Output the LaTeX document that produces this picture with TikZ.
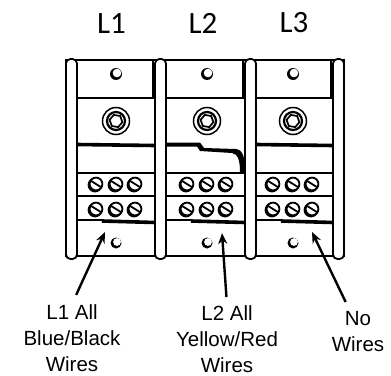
\documentclass[tikz,border=0pt]{standalone}
\usepackage{fontspec}
\setmainfont{Liberation Sans}
\newfontfamily\headfont{Carlito}
\usetikzlibrary{arrows.meta}

\begin{document}
\begin{tikzpicture}[x=1pt,y=-1pt,
    rail/.style={draw=black, fill=white, line width=1.8pt, rounded corners=4.5pt},
    edge/.style={line width=1.5pt},
    heavy/.style={line width=3.6pt},
    screw/.style={draw=black, fill=white, line width=1.8pt},
    slot/.style={line width=1.8pt},
    pointer/.style={line width=2.4pt, -{Stealth[length=11pt,width=9pt]}},
    caption/.style={align=center, inner sep=0pt, font=\fontsize{20.5}{26}\selectfont},
    phase/.style={inner sep=0pt, font=\headfont\fontsize{31}{31}\selectfont}]

    \useasboundingbox (0,0) rectangle (391,375);

    % phase headings
    \node[phase] (l1) at (111.5,24) {L1};
    \node[phase] (l2) at (203,23) {L2};
    \node[phase] (l3) at (294,23) {L3};

    % body of the block
    \draw[edge] (66,60) rectangle (344,256);

    % the three modules
    \foreach \xl/\xr/\xc in {77/155/116, 166/245/207, 256/333/293} {
        \draw[edge] (\xl,98) -- (\xr,98);
        \draw[edge] (\xl,173) -- (\xr,173);
        \draw[edge] (\xl,196) -- (\xr,196);
        \draw[line width=2.2pt] (\xl,220) -- (\xl+25,220);
        \draw[heavy] (\xl+25,221) -- (\xr,222.5);
        \draw[line width=2.4pt] (\xr-2,60) -- (\xr-2,98);

        % top hole
        \fill (\xc,74) circle (6);
        \fill[white] (\xc+1,73) circle (4.3);

        % hex screw
        \draw[edge] (\xc,121) circle (13.5);
        \draw[line width=2.2pt] (\xc,121) circle (9);
        \draw[line width=1.7pt] (\xc,121) +(10:6.5) -- +(70:6.5) -- +(130:6.5) -- +(190:6.5)
            -- +(250:6.5) -- +(310:6.5) -- cycle;

        % terminal screws
        \foreach \dx in {-20,0,19}
            \foreach \ry in {184,209} {
                \fill (\xc+\dx-1,\ry+1) circle (7.4);
                \draw[screw] (\xc+\dx,\ry) circle (6.4);
                \draw[slot] (\xc+\dx,\ry) +(212:6.6) -- +(32:6.6);
            }

        % bottom hole
        \fill (\xc,243) circle (5.5);
        \fill[white] (\xc+1,242) circle (3.9);
    }

    % heavy lines under the hex screws
    \draw[heavy] (77,144.5) -- (155,145.5);
    \draw[heavy] (256,144.5) -- (333,145.5);
    \fill (166,142.5) -- (200,142.5) -- (204,148) -- (236,149)
        .. controls (244,150) and (245,160) .. (245,173)
        -- (240,173) .. controls (240,160) and (238,154) .. (232,153)
        -- (200,151) -- (197,146.5) -- (166,146.5) -- cycle;

    % rails between the modules
    \foreach \xr in {66,155,245,333}
        \draw[rail] (\xr,59) rectangle (\xr+11,259);

    % wire labels
    \node[caption, anchor=north] (w1) at (72,304) {L1 All\\Blue/Black\\Wires};
    \node[caption, anchor=north] (w2) at (227,305) {L2 All\\Yellow/Red\\Wires};
    \node[caption, anchor=north] (w3) at (358,311) {No\\Wires};

    % arrow tips
    \coordinate (t1) at (105,232);
    \coordinate (t2) at (222,233);
    \coordinate (t3) at (312,232);

    \draw[pointer, shorten <=10pt] (w1.north) -- (t1);
    \draw[pointer, shorten <=8pt] (w2.north) -- (t2);
    \draw[pointer, shorten <=10pt] ([xshift=-8pt]w3.north) -- (t3);
\end{tikzpicture}
\end{document}
